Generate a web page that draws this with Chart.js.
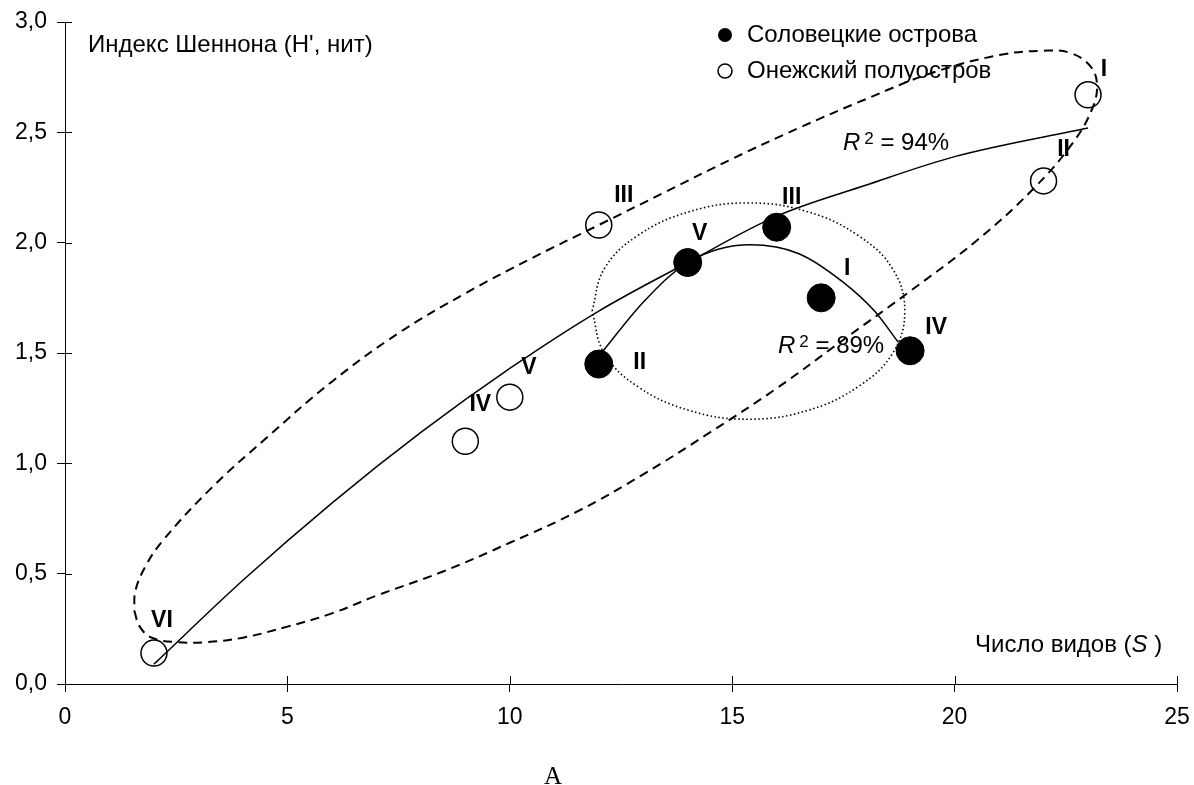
<!doctype html>
<html lang="ru">
<head>
<meta charset="utf-8">
<title>Индекс Шеннона и число видов</title>
<style>
  * { margin: 0; padding: 0; }
  body { background: #fff; }
  .chartBox { width: 1194px; height: 785px; }
</style>
</head>
<body>
<div class="chartBox"><canvas id="myChart"></canvas></div>
<script src="https://cdn.jsdelivr.net/npm/chart.js"></script>
<script>
// Соловецкие острова, stations I..V
const solLabels = ['I', 'II', 'III', 'IV', 'V'];
const solS = [17, 12, 16, 19, 14];
const solH = [1.75, 1.45, 2.07, 1.51, 1.91];

// Онежский полуостров, stations I..VI
const oneLabels = ['I', 'II', 'III', 'IV', 'V', 'VI'];
const oneS = [23, 22, 12, 9, 10, 2];
const oneH = [2.67, 2.28, 2.08, 1.10, 1.30, 0.14];

// trend curves
const oneTrendS = [2, 4, 6, 8, 10, 12, 14, 16, 18, 20, 23];
const oneTrendH = [0.09, 0.47, 0.82, 1.14, 1.43, 1.69, 1.91, 2.12, 2.26, 2.39, 2.52];
const solTrendS = [12.06, 13, 14, 15.4, 16.5, 17.5, 18.2, 18.73];
const solTrendH = [1.50, 1.73, 1.91, 1.99, 1.95, 1.82, 1.69, 1.55];

// outline of the Onega group (dashed): left tip, lower edge to the right, upper edge back
const oneHullS = [1.56, 1.68, 1.95, 2.5, 3.2, 4, 5, 6, 7, 8.5, 10, 11.5, 13, 14.5, 16, 17.5, 19, 20.5, 21.75, 22.65, 23.1, 23.2, 23.05, 22.6, 22, 21, 19.5, 18, 16.5, 15, 13.5, 12, 10.5, 9, 7.5, 6, 4.5, 3.3, 2.2, 1.8, 1.58, 1.56];
const oneHullH = [0.33, 0.26, 0.21, 0.19, 0.19, 0.21, 0.26, 0.32, 0.40, 0.51, 0.64, 0.78, 0.95, 1.14, 1.34, 1.56, 1.78, 2.01, 2.24, 2.45, 2.61, 2.72, 2.80, 2.86, 2.87, 2.85, 2.77, 2.65, 2.52, 2.38, 2.23, 2.08, 1.93, 1.77, 1.59, 1.37, 1.11, 0.89, 0.65, 0.53, 0.42, 0.33];

// outline of the Solovetsky group (dotted)
const solHullS = [11.85, 12.12, 12.86, 14.03, 15.36, 16.70, 17.85, 18.61, 18.88, 18.61, 17.85, 16.70, 15.36, 14.03, 12.86, 12.12, 11.85];
const solHullH = [1.69, 1.88, 2.03, 2.14, 2.18, 2.14, 2.03, 1.88, 1.69, 1.50, 1.35, 1.24, 1.20, 1.24, 1.35, 1.50, 1.69];

const yTickLabels = ['0,0', '0,5', '1,0', '1,5', '2,0', '2,5', '3,0'];

const pts = (xs, ys) => xs.map((x, i) => ({ x: x, y: ys[i] }));

const FONT = '"Liberation Sans", Arial, sans-serif';

// label offsets from the marker, px
const solOffsets = [[26, -29], [41, -1], [15, -30], [26, -23], [12, -29]];
const oneOffsets = [[16, -25], [20, -31], [25, -29], [15, -37], [19, -29], [8, -32]];

const annotations = {
  id: 'annotations',
  afterDraw(chart) {
    const ctx = chart.ctx;
    const xs = chart.scales.x, ys = chart.scales.y;
    const area = chart.chartArea;
    ctx.save();
    ctx.strokeStyle = '#000';
    ctx.lineWidth = 1;
    // inner half of the tick marks
    ctx.beginPath();
    xs.ticks.forEach(t => {
      const px = Math.round(xs.getPixelForValue(t.value)) + 0.5;
      ctx.moveTo(px, area.bottom);
      ctx.lineTo(px, area.bottom - 8);
    });
    ys.ticks.forEach(t => {
      const py = Math.round(ys.getPixelForValue(t.value)) + 0.5;
      ctx.moveTo(area.left, py);
      ctx.lineTo(area.left + 7, py);
    });
    ctx.stroke();

    ctx.fillStyle = '#000';
    // point labels
    ctx.font = 'bold 23px ' + FONT;
    ctx.textAlign = 'center';
    ctx.textBaseline = 'middle';
    chart.getDatasetMeta(0).data.forEach((p, i) => {
      ctx.fillText(solLabels[i], p.x + solOffsets[i][0], p.y + solOffsets[i][1]);
    });
    chart.getDatasetMeta(1).data.forEach((p, i) => {
      ctx.fillText(oneLabels[i], p.x + oneOffsets[i][0], p.y + oneOffsets[i][1]);
    });

    // axis titles
    ctx.textAlign = 'left';
    ctx.textBaseline = 'alphabetic';
    ctx.font = '24px ' + FONT;
    ctx.fillText("Индекс Шеннона (H', нит)", area.left + 23, area.top + 30);

    let x = 975;
    const by = area.bottom - 32;
    ctx.fillText('Число видов (', x, by);
    x += ctx.measureText('Число видов (').width;
    ctx.font = 'italic 24px ' + FONT;
    ctx.fillText('S', x, by);
    x += ctx.measureText('S').width;
    ctx.font = '24px ' + FONT;
    ctx.fillText(' )', x, by);

    // R² labels
    const r2 = (txt, sx, hy) => {
      let px = xs.getPixelForValue(sx);
      const py = ys.getPixelForValue(hy);
      ctx.font = 'italic 24px ' + FONT;
      ctx.fillText('R', px, py);
      px += ctx.measureText('R').width + 4;
      ctx.font = '17px ' + FONT;
      ctx.fillText('2', px, py - 6);
      px += ctx.measureText('2').width;
      ctx.font = '24px ' + FONT;
      ctx.fillText(' = ' + txt, px, py);
    };
    r2('94%', 17.49, 2.42);
    r2('89%', 16.03, 1.50);

    // legend
    const items = [
      { y: 35, fill: true, text: chart.data.datasets[0].label },
      { y: 71, fill: false, text: chart.data.datasets[1].label }
    ];
    items.forEach(it => {
      ctx.beginPath();
      ctx.arc(725, it.y, 7, 0, Math.PI * 2);
      if (it.fill) { ctx.fill(); } else { ctx.lineWidth = 1.5; ctx.stroke(); }
      ctx.font = '24px ' + FONT;
      ctx.fillText(it.text, 747, it.y + 7);
    });

    // panel letter
    ctx.font = '25px "Liberation Serif", "Times New Roman", serif';
    ctx.textAlign = 'center';
    ctx.fillText('A', 553, 784);
    ctx.restore();
  }
};

const config = {
  type: 'scatter',
  data: {
    datasets: [
      {
        label: 'Соловецкие острова',
        data: pts(solS, solH),
        pointRadius: 14,
        pointHoverRadius: 14,
        backgroundColor: '#000',
        borderColor: '#000',
        order: 0
      },
      {
        label: 'Онежский полуостров',
        data: pts(oneS, oneH),
        pointRadius: 13,
        pointHoverRadius: 13,
        pointBorderWidth: 1.5,
        backgroundColor: 'rgba(0,0,0,0)',
        borderColor: '#000',
        order: 0
      },
      {
        label: 'trend Onega',
        data: pts(oneTrendS, oneTrendH),
        showLine: true,
        cubicInterpolationMode: 'monotone',
        pointRadius: 0,
        borderColor: '#000',
        borderWidth: 1.5,
        order: 1
      },
      {
        label: 'trend Solovki',
        data: pts(solTrendS, solTrendH),
        showLine: true,
        cubicInterpolationMode: 'monotone',
        pointRadius: 0,
        borderColor: '#000',
        borderWidth: 1.5,
        order: 1
      },
      {
        label: 'hull Onega',
        data: pts(oneHullS, oneHullH),
        showLine: true,
        tension: 0.4,
        pointRadius: 0,
        borderColor: '#000',
        borderWidth: 2,
        borderDash: [9, 6],
        order: 2
      },
      {
        label: 'hull Solovki',
        data: pts(solHullS, solHullH),
        showLine: true,
        tension: 0.4,
        pointRadius: 0,
        borderColor: '#000',
        borderWidth: 1.6,
        borderDash: [1.5, 2.5],
        order: 2
      }
    ]
  },
  options: {
    responsive: true,
    maintainAspectRatio: false,
    animation: false,
    layout: { padding: { top: 22, right: 17, left: 0, bottom: 0 } },
    plugins: {
      legend: { display: false },
      tooltip: { enabled: false }
    },
    scales: {
      x: {
        type: 'linear',
        min: 0,
        max: 25,
        afterFit: s => { s.height = 101; s.paddingLeft = 0; s.paddingRight = 0; },
        border: { display: true, color: '#000', width: 1 },
        grid: { drawOnChartArea: false, drawTicks: true, tickLength: 8, color: '#000' },
        ticks: { stepSize: 5, color: '#000', padding: 12, font: { family: FONT, size: 23 } }
      },
      y: {
        type: 'linear',
        min: 0,
        max: 3,
        afterFit: s => { s.width = 65; s.paddingTop = 0; s.paddingBottom = 0; },
        border: { display: true, color: '#000', width: 1 },
        grid: { drawOnChartArea: false, drawTicks: true, tickLength: 8, color: '#000' },
        ticks: {
          stepSize: 0.5,
          color: '#000',
          padding: 10,
          font: { family: FONT, size: 23 },
          callback: (v, i) => yTickLabels[i]
        }
      }
    }
  },
  plugins: [annotations]
};

const myChart = new Chart(document.getElementById('myChart'), config);
</script>
</body>
</html>
